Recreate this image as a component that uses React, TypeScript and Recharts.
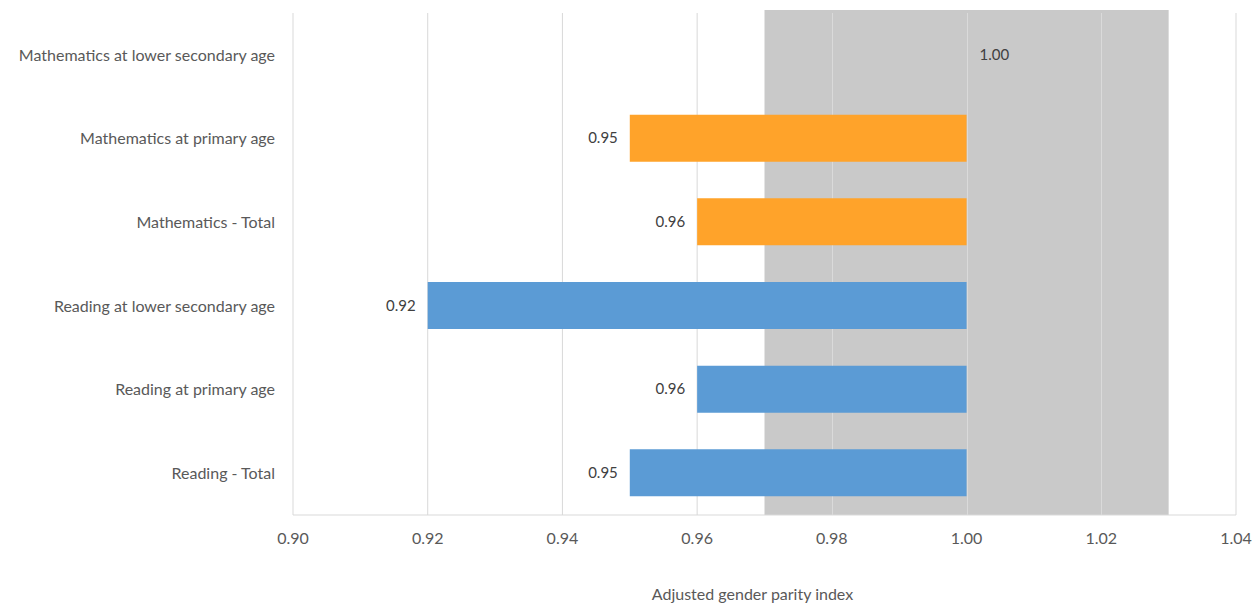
import React from 'react';
import {
  BarChart,
  Bar,
  XAxis,
  YAxis,
  CartesianGrid,
  ReferenceArea,
  Cell,
  LabelList,
} from 'recharts';

// values; every bar runs from its value up to parity (1.00)
const categories = [
  'Mathematics at lower secondary age',
  'Mathematics at primary age',
  'Mathematics - Total',
  'Reading at lower secondary age',
  'Reading at primary age',
  'Reading - Total',
];
const parityValues = [1.0, 0.95, 0.96, 0.92, 0.96, 0.95];
const subjects = ['Mathematics', 'Mathematics', 'Mathematics', 'Reading', 'Reading', 'Reading'];
const xTicks = [0.9, 0.92, 0.94, 0.96, 0.98, 1.0, 1.02, 1.04];
const parityBand = [0.97, 1.03];

const colors: Record<string, string> = {
  Mathematics: '#FFA32A',
  Reading: '#5B9BD5',
};

const data = categories.map((name, i) => ({
  name,
  value: parityValues[i],
  range: [parityValues[i], 1.0],
  subject: subjects[i],
}));

const FONT = 'Lato, "Open Sans", sans-serif';

// grey parity band; the grid lines that fall inside it are redrawn on top of the fill
const BandShape = (props: any) => {
  const { x, y, width, height } = props;
  const [lo, hi] = parityBand;
  const inside = xTicks.filter((t) => t > lo && t < hi);
  return (
    <g>
      <rect x={x} y={y - 3} width={width} height={height + 3} fill="#C9C9C9" />
      {inside.map((t) => {
        const lx = Math.round(x + ((t - lo) / (hi - lo)) * width) + 0.5;
        return <line key={t} x1={lx} x2={lx} y1={y} y2={y + height} stroke="#DADADA" />;
      })}
    </g>
  );
};

const ValueLabel = (props: any) => {
  const { x, y, width, height, value } = props;
  const v = Number(value);
  const cy = y + height / 2;
  // parity bar has no length, so its label sits to the right of 1.00
  if (v >= 1) {
    return (
      <text x={x + width + 12} y={cy} dy="0.35em" textAnchor="start" fontSize={15} fill="#404040" fontFamily={FONT}>
        {v.toFixed(2)}
      </text>
    );
  }
  return (
    <text x={x - 12} y={cy} dy="0.35em" textAnchor="end" fontSize={15} fill="#404040" fontFamily={FONT}>
      {v.toFixed(2)}
    </text>
  );
};

export default function App() {
  return (
    <div style={{ position: 'absolute', left: 0, top: 0, background: '#fff' }}>
      <BarChart
        width={1253}
        height={604}
        data={data}
        layout="vertical"
        margin={{ top: 13, right: 17, bottom: 0, left: 0 }}
      >
        <CartesianGrid horizontal={false} stroke="#D9D9D9" />
        <ReferenceArea x1={parityBand[0]} x2={parityBand[1]} shape={BandShape} />
        <XAxis
          type="number"
          domain={[0.9, 1.04]}
          ticks={xTicks}
          tickFormatter={(v: number) => v.toFixed(2)}
          axisLine={{ stroke: '#D9D9D9' }}
          tickLine={false}
          tickMargin={12}
          height={89}
          tick={{ fontSize: 16, fill: '#595959', fontFamily: FONT }}
          label={{
            value: 'Adjusted gender parity index',
            position: 'insideBottom',
            offset: 4,
            dx: -12,
            fontSize: 16,
            fill: '#595959',
            fontFamily: FONT,
          }}
        />
        <YAxis
          type="category"
          dataKey="name"
          width={293}
          axisLine={false}
          tickLine={false}
          tickMargin={12}
          tick={{ fontSize: 16, fill: '#595959', fontFamily: FONT }}
        />
        <Bar dataKey="range" barSize={47} minPointSize={1} isAnimationActive={false}>
          {data.map((d) => (
            <Cell key={d.name} fill={d.value >= 1 ? 'transparent' : colors[d.subject]} />
          ))}
          <LabelList dataKey="value" content={ValueLabel} />
        </Bar>
      </BarChart>
    </div>
  );
}
